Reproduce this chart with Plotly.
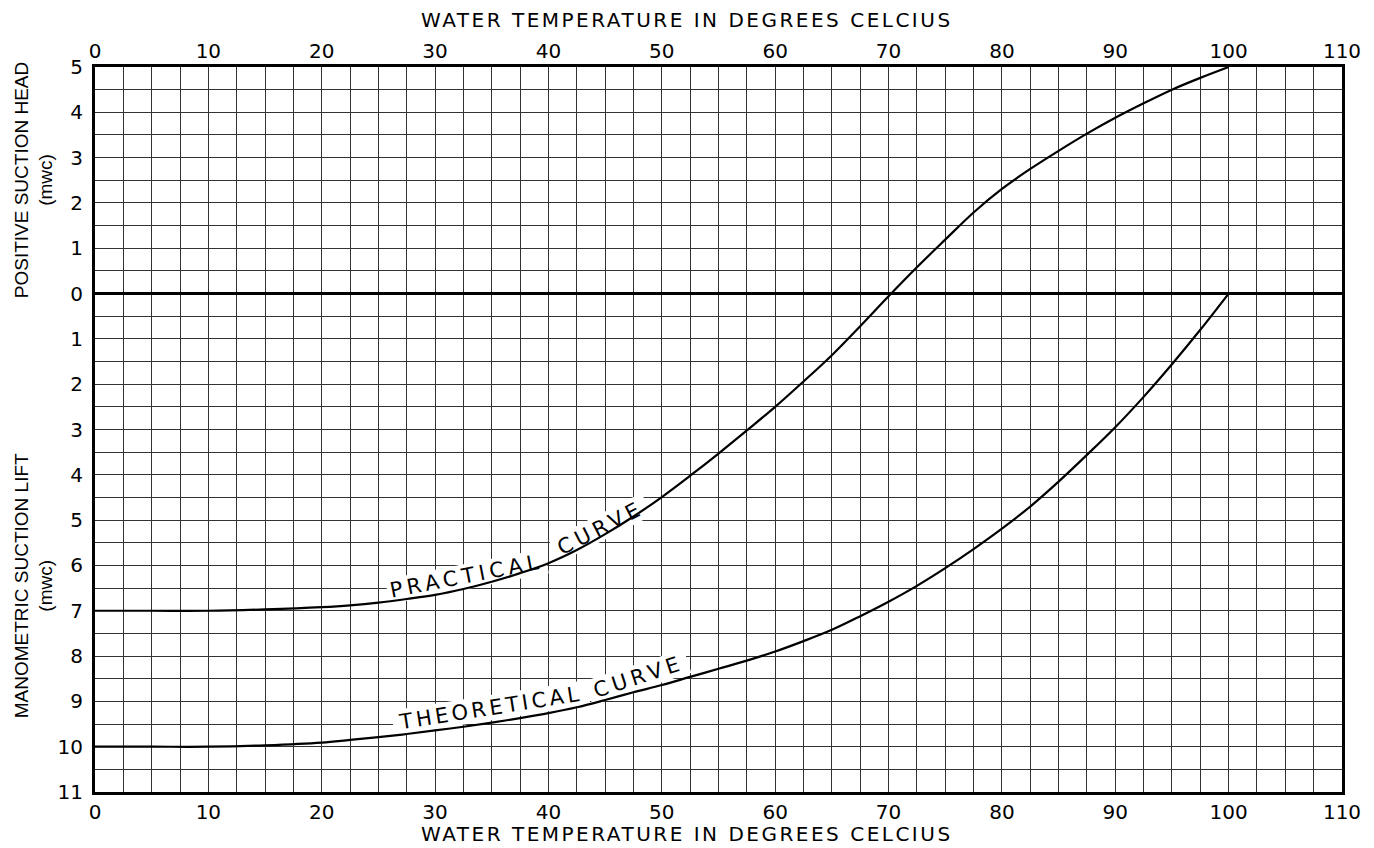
import math
import plotly.graph_objects as go

# ---- data (suction lift in mwc; negative values = positive suction head) ----
temp_practical = [0, 5, 10, 15, 20, 22.5, 25, 27.5, 30, 32.5, 35, 37.5, 40, 42.5, 45, 47.5, 50,
                  52.5, 55, 57.5, 60, 62.5, 65, 67.5, 70, 72.5, 75, 77.5, 80, 82.5, 85, 87.5,
                  90, 92.5, 95, 97.5, 100]
lift_practical = [7.0, 7.0, 7.0, 6.97, 6.92, 6.88, 6.82, 6.74, 6.65, 6.52, 6.36, 6.17, 5.95, 5.66, 5.31, 4.92, 4.49,
                  4.02, 3.53, 3.02, 2.5, 1.94, 1.36, 0.72, 0.06, -0.58, -1.19, -1.79, -2.31, -2.75, -3.15, -3.53,
                  -3.88, -4.2, -4.5, -4.76, -5.0]

temp_theoretical = [0, 5, 10, 15, 20, 22.5, 25, 27.5, 30, 32.5, 35, 37.5, 40, 42.5, 45, 47.5, 50,
                    52.5, 55, 57.5, 60, 62.5, 65, 67.5, 70, 72.5, 75, 77.5, 80, 82.5, 85, 87.5,
                    90, 92.5, 95, 97.5, 100]
lift_theoretical = [10.0, 10.0, 10.0, 9.97, 9.91, 9.85, 9.79, 9.72, 9.64, 9.56, 9.47, 9.37, 9.26, 9.13, 8.97, 8.80, 8.64,
                    8.46, 8.28, 8.10, 7.90, 7.67, 7.42, 7.12, 6.80, 6.45, 6.06, 5.64, 5.19, 4.70, 4.15, 3.56,
                    2.95, 2.28, 1.56, 0.80, 0.0]

x_ticks = [0, 10, 20, 30, 40, 50, 60, 70, 80, 90, 100, 110]
y_tickvals = list(range(-5, 12))
y_ticktext = [str(abs(v)) for v in y_tickvals]

x_title = "WATER TEMPERATURE IN DEGREES CELCIUS"
head_title = "POSITIVE SUCTION HEAD<br>(mwc)"
lift_title = "MANOMETRIC SUCTION LIFT<br>(mwc)"

# curve labels: word, temperature, lift, angle, approx mask width (px)
label_words = ["PRACTICAL", "CURVE", "THEORETICAL", "CURVE"]
label_x = [32.8, 44.6, 34.9, 47.9]
label_y = [6.24, 5.17, 9.14, 8.46]
label_angle = [-11, -27, -9, -18]
label_mask_w = [162, 104, 198, 104]

HFONT = "DejaVu Sans, Verdana, sans-serif"
VFONT = "Liberation Sans, Arial, Helvetica, sans-serif"
GRID = "#333333"

# pixel scale of the plot area (for label masks)
W, H = 1374, 848
ML, MR, MT, MB = 95, 32, 67, 56
PX_X = (W - ML - MR) / 110.0
PX_Y = (H - MT - MB) / 16.0

fig = go.Figure()
fig.add_trace(go.Scatter(x=temp_practical, y=lift_practical, mode="lines",
                         line=dict(color="black", width=2.2, shape="spline", smoothing=1.0),
                         showlegend=False, hoverinfo="skip"))
fig.add_trace(go.Scatter(x=temp_theoretical, y=lift_theoretical, mode="lines",
                         line=dict(color="black", width=2.2, shape="spline", smoothing=1.0),
                         showlegend=False, hoverinfo="skip"))
fig.add_trace(go.Scatter(x=[0, 110], y=[0, 0], xaxis="x2", mode="lines",
                         line=dict(width=0), showlegend=False, hoverinfo="skip"))

axis_common = dict(range=[0, 110], tickmode="array", tickvals=x_ticks,
                   ticktext=[str(v) for v in x_ticks], ticks="",
                   tickfont=dict(family=HFONT, size=20, color="black"))

fig.update_layout(
    width=W, height=H,
    margin=dict(l=ML, r=MR, t=MT, b=MB),
    paper_bgcolor="white", plot_bgcolor="white",
    font=dict(family=HFONT, size=20, color="black"),
    xaxis=dict(**axis_common, side="bottom",
               showgrid=True, gridcolor=GRID, gridwidth=1,
               minor=dict(tickmode="linear", tick0=0, dtick=2.5, showgrid=True,
                          gridcolor=GRID, gridwidth=1),
               showline=True, linecolor="black", linewidth=2.5, mirror=True,
               zeroline=False),
    xaxis2=dict(**axis_common, side="top", overlaying="x", matches="x",
                showgrid=False, showline=False, zeroline=False, ticklabelstandoff=4),
    yaxis=dict(range=[11, -5], tickmode="array", tickvals=y_tickvals, ticktext=y_ticktext,
               ticks="", tickfont=dict(family=HFONT, size=20, color="black"),
               showgrid=True, gridcolor=GRID, gridwidth=1,
               minor=dict(tickmode="linear", tick0=0, dtick=0.5, showgrid=True,
                          gridcolor=GRID, gridwidth=1),
               showline=True, linecolor="black", linewidth=3, mirror=True,
               zeroline=True, zerolinecolor="black", zerolinewidth=2.5,
               ticklabelstandoff=5),
)

# axis titles
fig.add_annotation(text=x_title, xref="paper", yref="paper", x=0.475, y=1.0644,
                   xanchor="center", yanchor="middle", showarrow=False,
                   font=dict(family=HFONT, size=20))
fig.add_annotation(text=x_title, xref="paper", yref="paper", x=0.475, y=-0.0584,
                   xanchor="center", yanchor="middle", showarrow=False,
                   font=dict(family=HFONT, size=20))
fig.add_annotation(text=head_title, xref="paper", yref="paper", x=-0.049, y=0.8437,
                   xanchor="center", yanchor="middle", showarrow=False, textangle=-90,
                   font=dict(family=VFONT, size=19))
fig.add_annotation(text=lift_title, xref="paper", yref="paper", x=-0.049, y=0.285,
                   xanchor="center", yanchor="middle", showarrow=False, textangle=-90,
                   font=dict(family=VFONT, size=19))

# curve labels with white masks drawn between grid and curves
for txt, x, y, ang, mw in zip(label_words, label_x, label_y, label_angle, label_mask_w):
    a = math.radians(ang)
    ux, uy = math.cos(a), math.sin(a)
    nx, ny = -math.sin(a), math.cos(a)
    hw, hh = mw / 2.0, 12.5
    pts = []
    for sx, sy in [(-1, -1), (1, -1), (1, 1), (-1, 1)]:
        px = sx * hw * ux + sy * hh * nx
        py = sx * hw * uy + sy * hh * ny
        pts.append((x + px / PX_X, y + py / PX_Y))
    path = "M " + " L ".join(f"{p[0]:.4f},{p[1]:.4f}" for p in pts) + " Z"
    fig.add_shape(type="path", path=path, xref="x", yref="y", layer="between",
                  fillcolor="white", line=dict(width=0))
    fig.add_annotation(text=txt, x=x, y=y, xref="x", yref="y", showarrow=False,
                       textangle=ang, font=dict(family=HFONT, size=21, color="black"))

# widen the lettering of the horizontal titles and curve labels like the original drawing
post = """
document.body.style.margin='0';
var gd = document.getElementById('{plot_id}');
var spacing = {'WATER TEMPERATURE IN DEGREES CELCIUS': '2.5px', 'PRACTICAL': '4.5px',
               'CURVE': '4.5px', 'THEORETICAL': '3.5px'};
gd.querySelectorAll('text.annotation-text').forEach(function(t){
  var s = spacing[t.textContent];
  if (s) { t.style.letterSpacing = s; }
});
"""
fig.write_html("out.html", post_script=post, config={"displayModeBar": False})
